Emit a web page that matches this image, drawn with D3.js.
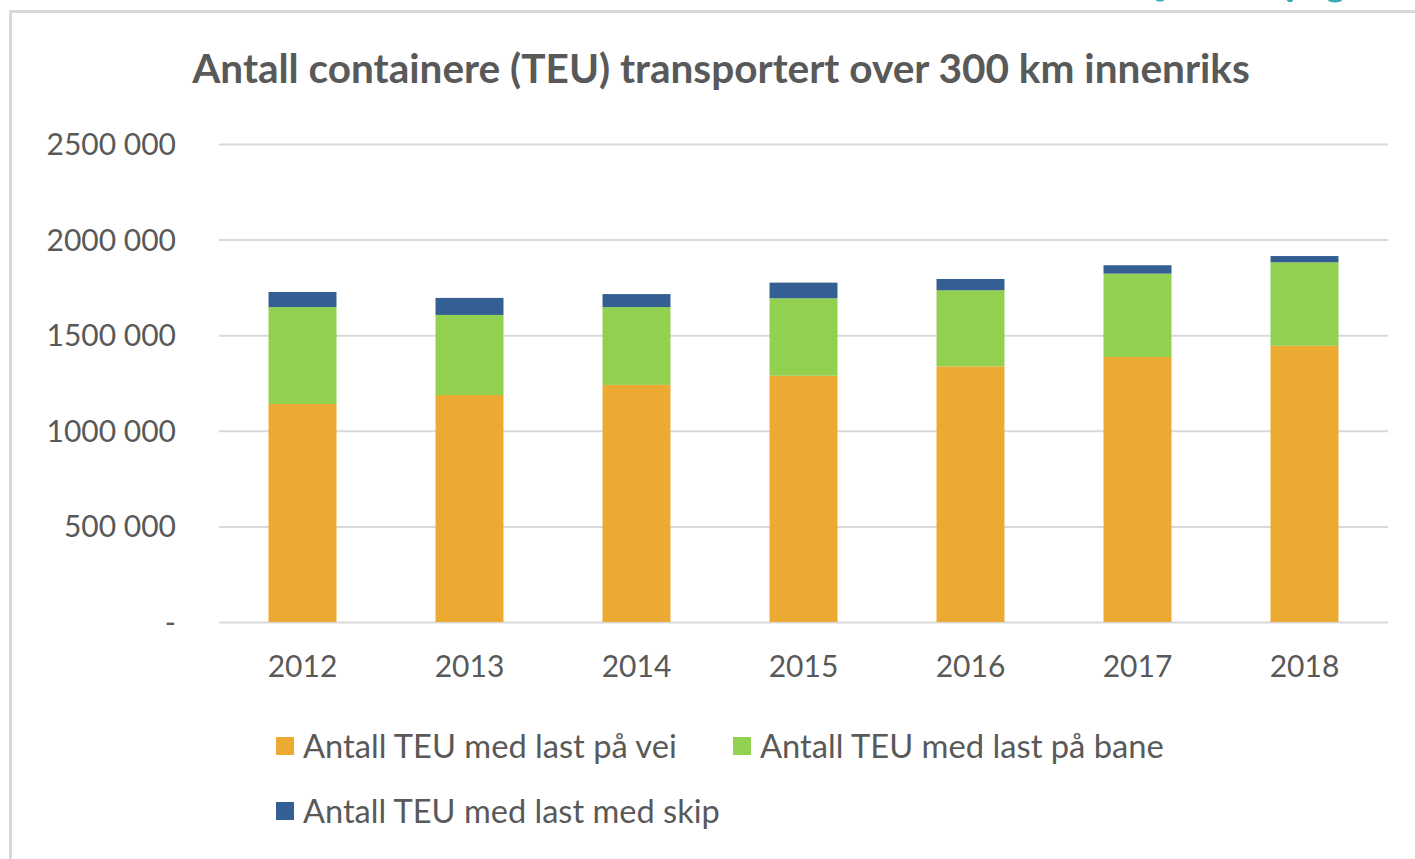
<!DOCTYPE html>
<html><head><meta charset="utf-8">
<script src="https://cdn.jsdelivr.net/npm/d3@7"></script>
<style>
html,body{margin:0;padding:0;background:#fff;}
svg{display:block;}
text{font-family:Lato,"Open Sans",sans-serif;fill:#595959;}
</style></head>
<body>
<svg id="chart" width="1415" height="859"></svg>
<script>
const title = "Antall containere (TEU) transportert over 300 km innenriks";
const years = ["2012","2013","2014","2015","2016","2017","2018"];
const seriesNames = ["Antall TEU med last på vei","Antall TEU med last på bane","Antall TEU med last med skip"];
const vei  = [1140000,1187000,1240000,1288000,1337000,1386000,1445000];
const bane = [ 507000, 419000, 407000, 405000, 398000, 436000, 436000];
const skip = [  79000,  89000,  68000,  82000,  59000,  44000,  33000];
const yTicks = [0,500000,1000000,1500000,2000000,2500000];
const yTickLabels = ["-","500 000","1000 000","1500 000","2000 000","2500 000"];
const colors = ["#EDAA33","#92D050","#335F92"];

(function(){
const svg = d3.select("#chart");
const W = 1415, H = 859;
const pL = 219, pR = 1388, pT = 144, pB = 622;

// frame
svg.append("line").attr("x1",9).attr("x2",W).attr("y1",11.5).attr("y2",11.5).attr("stroke","#d9d9d9").attr("stroke-width",3);
svg.append("line").attr("x1",10.5).attr("x2",10.5).attr("y1",10).attr("y2",H).attr("stroke","#d9d9d9").attr("stroke-width",3);

// teal glyph fragments cut off at the top edge
[[1160,0,4,1.6],[1290,0,3,2],[1335,0,7,2.4]].forEach(([cx,cy,rx,ry])=>{
  svg.append("ellipse").attr("cx",cx).attr("cy",cy).attr("rx",rx).attr("ry",ry).attr("fill","#3aa9b3");
});

function fit(sel, w){
  const n = sel.node();
  const fs = parseFloat(sel.style("font-size"));
  const L = n.getComputedTextLength();
  sel.style("font-size",(fs*w/L)+"px");
}

const t = svg.append("text").attr("x",(192+1250)/2).attr("y",83).attr("text-anchor","middle")
  .style("font-size","36px").style("font-weight","700").text(title);
fit(t, 1058);

const x = d3.scaleBand().domain(years).range([pL,pR]).paddingInner(0.593).paddingOuter(0.2965);
const y = d3.scaleLinear().domain([0,2500000]).range([pB,pT]);

// gridlines
const yAxis = d3.axisLeft(y).tickValues(yTicks).tickSize(-(pR-pL)).tickFormat((d,i)=>yTickLabels[i]).tickPadding(43);
const ga = svg.append("g").attr("transform",`translate(${pL},0)`).call(yAxis);
ga.select(".domain").remove();
ga.selectAll(".tick line").attr("stroke","#d9d9d9").attr("stroke-width",2);
ga.selectAll(".tick text").style("font-size","30px").style("fill","#595959").style("font-family","Lato,sans-serif").attr("dy","0.35em");

// stacked bars
const rows = years.map((yr,i)=>({year:yr, vei:vei[i], bane:bane[i], skip:skip[i]}));
const stack = d3.stack().keys(["vei","bane","skip"])(rows);
svg.append("g").selectAll("g").data(stack).join("g").attr("fill",(d,i)=>colors[i])
  .selectAll("rect").data(d=>d).join("rect")
  .attr("x",d=>x(d.data.year)).attr("width",x.bandwidth())
  .attr("y",d=>y(d[1])).attr("height",d=>y(d[0])-y(d[1]));

// x axis labels
const xAxis = d3.axisBottom(x).tickSize(0).tickPadding(34);
const gx = svg.append("g").attr("transform",`translate(0,${pB})`).call(xAxis);
gx.select(".domain").remove();
gx.selectAll(".tick text").style("font-size","30px").style("fill","#595959").style("font-family","Lato,sans-serif");

// legend
const legendPos = [[276,746],[733,746],[276,811]];
const legendW = [374,404,417];
seriesNames.forEach((nm,i)=>{
  const [lx,ly] = legendPos[i];
  svg.append("rect").attr("x",lx).attr("y",ly-9).attr("width",18).attr("height",18).attr("fill",colors[i]);
  const lt = svg.append("text").attr("x",lx+27).attr("y",ly).attr("dy","0.36em").style("font-size","30px").text(nm);
  fit(lt, legendW[i]);
});
})();
</script>
</body></html>
